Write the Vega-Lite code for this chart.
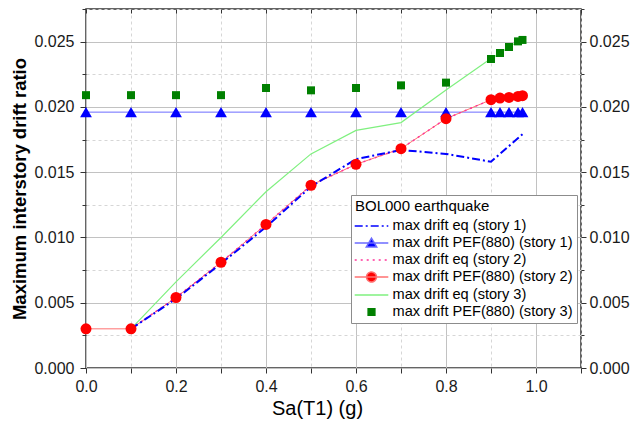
{
  "$schema": "https://vega.github.io/schema/vega-lite/v6.json",
  "width": 495,
  "height": 359,
  "autosize": {"type": "none"},
  "padding": {"left": 86, "top": 9, "right": 49, "bottom": 59},
  "background": "white",
  "config": {
    "font": "Liberation Sans",
    "view": {"stroke": "#333333", "strokeWidth": 1.5},
    "axis": {"labelFont": "Liberation Sans", "labelFontSize": 16, "labelColor": "#1a1a1a", "tickColor": "#333333", "domain": false, "titleFont": "Liberation Sans", "titleColor": "#000000", "labelFlush": false, "labelOverlap": false, "labelBound": false},
    "legend": {"orient": "none", "legendX": 265, "legendY": 186,
      "titleFontSize": 15, "titleFontWeight": "normal", "titleColor": "#000000", "titleFont": "Liberation Sans", "titlePadding": 3,
      "labelFontSize": 14.6, "labelColor": "#000000", "labelFont": "Liberation Sans", "labelLimit": 400,
      "fillColor": "#ffffff", "strokeColor": "#8c8c8c", "padding": 4, "rowPadding": 1,
      "symbolSize": 256, "symbolStrokeWidth": 1.5, "symbolOpacity": 1, "symbolOffset": 7.5, "labelOffset": 12}
  },
  "data": {"values": [
    {"s": "max drift eq (story 1)", "x": 0.1, "y": 0.0030},
    {"s": "max drift eq (story 1)", "x": 0.2, "y": 0.0053},
    {"s": "max drift eq (story 1)", "x": 0.3, "y": 0.0080},
    {"s": "max drift eq (story 1)", "x": 0.4, "y": 0.0108},
    {"s": "max drift eq (story 1)", "x": 0.5, "y": 0.0139},
    {"s": "max drift eq (story 1)", "x": 0.6, "y": 0.0160},
    {"s": "max drift eq (story 1)", "x": 0.7, "y": 0.0167},
    {"s": "max drift eq (story 1)", "x": 0.8, "y": 0.0164},
    {"s": "max drift eq (story 1)", "x": 0.9, "y": 0.0158},
    {"s": "max drift eq (story 1)", "x": 0.97, "y": 0.0179},
    {"s": "max drift PEF(880) (story 1)", "x": 0.0, "y": 0.0196},
    {"s": "max drift PEF(880) (story 1)", "x": 0.1, "y": 0.0196},
    {"s": "max drift PEF(880) (story 1)", "x": 0.2, "y": 0.0196},
    {"s": "max drift PEF(880) (story 1)", "x": 0.3, "y": 0.0196},
    {"s": "max drift PEF(880) (story 1)", "x": 0.4, "y": 0.0196},
    {"s": "max drift PEF(880) (story 1)", "x": 0.5, "y": 0.0196},
    {"s": "max drift PEF(880) (story 1)", "x": 0.6, "y": 0.0196},
    {"s": "max drift PEF(880) (story 1)", "x": 0.7, "y": 0.0196},
    {"s": "max drift PEF(880) (story 1)", "x": 0.8, "y": 0.0196},
    {"s": "max drift PEF(880) (story 1)", "x": 0.9, "y": 0.0196},
    {"s": "max drift PEF(880) (story 1)", "x": 0.92, "y": 0.0196},
    {"s": "max drift PEF(880) (story 1)", "x": 0.94, "y": 0.0196},
    {"s": "max drift PEF(880) (story 1)", "x": 0.96, "y": 0.0196},
    {"s": "max drift PEF(880) (story 1)", "x": 0.97, "y": 0.0196},
    {"s": "max drift eq (story 2)", "x": 0.1, "y": 0.0030},
    {"s": "max drift eq (story 2)", "x": 0.2, "y": 0.0054},
    {"s": "max drift eq (story 2)", "x": 0.3, "y": 0.0081},
    {"s": "max drift eq (story 2)", "x": 0.4, "y": 0.0110},
    {"s": "max drift eq (story 2)", "x": 0.5, "y": 0.0140},
    {"s": "max drift eq (story 2)", "x": 0.6, "y": 0.0156},
    {"s": "max drift eq (story 2)", "x": 0.7, "y": 0.0168},
    {"s": "max drift eq (story 2)", "x": 0.8, "y": 0.0191},
    {"s": "max drift eq (story 2)", "x": 0.9, "y": 0.02055},
    {"s": "max drift eq (story 2)", "x": 0.92, "y": 0.02068},
    {"s": "max drift eq (story 2)", "x": 0.94, "y": 0.02073},
    {"s": "max drift eq (story 2)", "x": 0.96, "y": 0.0208},
    {"s": "max drift eq (story 2)", "x": 0.97, "y": 0.02086},
    {"s": "max drift PEF(880) (story 2)", "x": 0.0, "y": 0.0030},
    {"s": "max drift PEF(880) (story 2)", "x": 0.1, "y": 0.0030},
    {"s": "max drift PEF(880) (story 2)", "x": 0.2, "y": 0.0054},
    {"s": "max drift PEF(880) (story 2)", "x": 0.3, "y": 0.0081},
    {"s": "max drift PEF(880) (story 2)", "x": 0.4, "y": 0.0110},
    {"s": "max drift PEF(880) (story 2)", "x": 0.5, "y": 0.0140},
    {"s": "max drift PEF(880) (story 2)", "x": 0.6, "y": 0.0156},
    {"s": "max drift PEF(880) (story 2)", "x": 0.7, "y": 0.0168},
    {"s": "max drift PEF(880) (story 2)", "x": 0.8, "y": 0.0191},
    {"s": "max drift PEF(880) (story 2)", "x": 0.9, "y": 0.02055},
    {"s": "max drift PEF(880) (story 2)", "x": 0.92, "y": 0.02068},
    {"s": "max drift PEF(880) (story 2)", "x": 0.94, "y": 0.02073},
    {"s": "max drift PEF(880) (story 2)", "x": 0.96, "y": 0.0208},
    {"s": "max drift PEF(880) (story 2)", "x": 0.97, "y": 0.02086},
    {"s": "max drift eq (story 3)", "x": 0.1, "y": 0.0030},
    {"s": "max drift eq (story 3)", "x": 0.2, "y": 0.0066},
    {"s": "max drift eq (story 3)", "x": 0.3, "y": 0.0100},
    {"s": "max drift eq (story 3)", "x": 0.4, "y": 0.0135},
    {"s": "max drift eq (story 3)", "x": 0.5, "y": 0.0164},
    {"s": "max drift eq (story 3)", "x": 0.6, "y": 0.0182},
    {"s": "max drift eq (story 3)", "x": 0.7, "y": 0.0188},
    {"s": "max drift eq (story 3)", "x": 0.8, "y": 0.0213},
    {"s": "max drift eq (story 3)", "x": 0.9, "y": 0.0237},
    {"s": "max drift eq (story 3)", "x": 0.92, "y": 0.0241},
    {"s": "max drift eq (story 3)", "x": 0.94, "y": 0.0246},
    {"s": "max drift eq (story 3)", "x": 0.96, "y": 0.0250},
    {"s": "max drift eq (story 3)", "x": 0.97, "y": 0.0251},
    {"s": "max drift PEF(880) (story 3)", "x": 0.0, "y": 0.0209},
    {"s": "max drift PEF(880) (story 3)", "x": 0.1, "y": 0.0209},
    {"s": "max drift PEF(880) (story 3)", "x": 0.2, "y": 0.0209},
    {"s": "max drift PEF(880) (story 3)", "x": 0.3, "y": 0.0209},
    {"s": "max drift PEF(880) (story 3)", "x": 0.4, "y": 0.02145},
    {"s": "max drift PEF(880) (story 3)", "x": 0.5, "y": 0.02127},
    {"s": "max drift PEF(880) (story 3)", "x": 0.6, "y": 0.02145},
    {"s": "max drift PEF(880) (story 3)", "x": 0.7, "y": 0.02165},
    {"s": "max drift PEF(880) (story 3)", "x": 0.8, "y": 0.02186},
    {"s": "max drift PEF(880) (story 3)", "x": 0.9, "y": 0.02367},
    {"s": "max drift PEF(880) (story 3)", "x": 0.92, "y": 0.02413},
    {"s": "max drift PEF(880) (story 3)", "x": 0.94, "y": 0.02459},
    {"s": "max drift PEF(880) (story 3)", "x": 0.96, "y": 0.02502},
    {"s": "max drift PEF(880) (story 3)", "x": 0.97, "y": 0.02513}
  ]},
  "resolve": {"axis": {"x": "independent", "y": "independent"}},
  "layer": [
    {
      "transform": [{"filter": {"field": "s", "equal": "max drift PEF(880) (story 1)"}}],
      "mark": {"type": "line", "color": "#6b6bff", "strokeWidth": 1},
      "encoding": {
        "x": {"field": "x", "type": "quantitative", "scale": {"domain": [0, 1.1], "nice": false, "zero": false},
          "axis": {"orient": "bottom", "values": [0, 0.1, 0.2, 0.3, 0.4, 0.5, 0.6, 0.7, 0.8, 0.9, 1.0, 1.1],
            "labelExpr": "(round(datum.value*10) % 2 == 0 && datum.value < 1.05) ? format(datum.value, '.1f') : ''",
            "grid": true,
            "gridColor": {"condition": {"test": "round(datum.value*10) % 2 == 1", "value": "#d6d6d6"}, "value": "#c2c2c2"},
            "gridDash": {"condition": {"test": "round(datum.value*10) % 2 == 1", "value": [3, 3]}, "value": []},
            "tickSize": 5, "labelPadding": 5,
            "title": "Sa(T1) (g)", "titleFontSize": 20, "titleFontWeight": "normal", "titlePadding": 4, "titleX": 231, "titleAlign": "center"}},
        "y": {"field": "y", "type": "quantitative", "scale": {"domain": [0, 0.0275], "nice": false, "zero": false},
          "axis": {"orient": "left", "values": [0, 0.0025, 0.005, 0.0075, 0.01, 0.0125, 0.015, 0.0175, 0.02, 0.0225, 0.025, 0.0275],
            "labelExpr": "(round(datum.value*10000) % 50 == 0) ? format(datum.value, '.3f') : ''",
            "grid": true,
            "gridColor": {"condition": {"test": "round(datum.value*10000) % 50 != 0", "value": "#d6d6d6"}, "value": "#c2c2c2"},
            "gridDash": {"condition": {"test": "round(datum.value*10000) % 50 != 0", "value": [3, 3]}, "value": []},
            "tickSize": {"condition": {"test": "round(datum.value*10000) % 50 != 0", "value": 4}, "value": 6},
            "labelPadding": 6,
            "title": "Maximum interstory drift ratio", "titleFontSize": 18.5, "titleFontWeight": "bold", "titlePadding": 4}}
      }
    },
    {
      "transform": [{"filter": {"field": "s", "equal": "max drift eq (story 3)"}}],
      "mark": {"type": "line", "color": "#7ff07f", "strokeWidth": 1.2},
      "encoding": {
        "x": {"field": "x", "type": "quantitative", "axis": null},
        "y": {"field": "y", "type": "quantitative", "axis": null}
      }
    },
    {
      "transform": [{"filter": {"field": "s", "equal": "max drift PEF(880) (story 2)"}}],
      "mark": {"type": "line", "color": "#ff7070", "strokeWidth": 1},
      "encoding": {
        "x": {"field": "x", "type": "quantitative", "axis": null},
        "y": {"field": "y", "type": "quantitative", "axis": null}
      }
    },
    {
      "transform": [{"filter": {"field": "s", "equal": "max drift eq (story 2)"}}],
      "mark": {"type": "line", "color": "#ff3399", "strokeWidth": 1.5, "strokeDash": [2, 4]},
      "encoding": {
        "x": {"field": "x", "type": "quantitative", "axis": null},
        "y": {"field": "y", "type": "quantitative", "axis": null}
      }
    },
    {
      "transform": [{"filter": {"field": "s", "equal": "max drift eq (story 1)"}}],
      "mark": {"type": "line", "color": "#0000ff", "strokeWidth": 2, "strokeDash": [8, 3, 2, 3]},
      "encoding": {
        "x": {"field": "x", "type": "quantitative", "axis": null},
        "y": {"field": "y", "type": "quantitative", "axis": null}
      }
    },
    {
      "transform": [{"filter": {"field": "s", "equal": "max drift PEF(880) (story 1)"}}],
      "mark": {"type": "point", "shape": "triangle-up", "filled": true, "color": "#0000ff", "opacity": 1, "size": 140},
      "encoding": {
        "x": {"field": "x", "type": "quantitative",
          "axis": {"orient": "top", "values": [0, 0.1, 0.2, 0.3, 0.4, 0.5, 0.6, 0.7, 0.8, 0.9, 1.0, 1.1], "labels": false, "grid": false, "tickSize": -4, "title": null}},
        "y": {"field": "y", "type": "quantitative",
          "axis": {"orient": "right", "values": [0, 0.0025, 0.005, 0.0075, 0.01, 0.0125, 0.015, 0.0175, 0.02, 0.0225, 0.025, 0.0275],
            "labelExpr": "(round(datum.value*10000) % 50 == 0) ? format(datum.value, '.3f') : ''",
            "grid": false,
            "tickSize": {"condition": {"test": "round(datum.value*10000) % 50 != 0", "value": 3}, "value": 5},
            "labelPadding": 3, "title": null}}
      }
    },
    {
      "transform": [{"filter": {"field": "s", "equal": "max drift PEF(880) (story 2)"}}],
      "mark": {"type": "point", "shape": "circle", "filled": true, "color": "#ff0000", "opacity": 1, "size": 121},
      "encoding": {
        "x": {"field": "x", "type": "quantitative", "axis": null},
        "y": {"field": "y", "type": "quantitative", "axis": null}
      }
    },
    {
      "transform": [{"filter": {"field": "s", "equal": "max drift PEF(880) (story 3)"}}],
      "mark": {"type": "point", "shape": "square", "filled": true, "color": "#008000", "opacity": 1, "size": 64},
      "encoding": {
        "x": {"field": "x", "type": "quantitative", "axis": null},
        "y": {"field": "y", "type": "quantitative", "axis": null}
      }
    },
    {
      "transform": [{"filter": "false"}],
      "mark": {"type": "point"},
      "encoding": {
        "x": {"field": "x", "type": "quantitative", "axis": null},
        "y": {"field": "y", "type": "quantitative", "axis": null},
        "stroke": {"field": "s", "type": "nominal", "title": "BOL000 earthquake",
          "scale": {"domain": ["max drift eq (story 1)", "max drift PEF(880) (story 1)", "max drift eq (story 2)", "max drift PEF(880) (story 2)", "max drift eq (story 3)", "max drift PEF(880) (story 3)"],
            "range": ["#0000ff", "#6b6bff", "#ff3399", "#ff7070", "#7ff07f", "#008000"]}},
        "fill": {"field": "s", "type": "nominal", "title": "BOL000 earthquake",
          "scale": {"domain": ["max drift eq (story 1)", "max drift PEF(880) (story 1)", "max drift eq (story 2)", "max drift PEF(880) (story 2)", "max drift eq (story 3)", "max drift PEF(880) (story 3)"],
            "range": ["transparent", "#0000ff", "transparent", "#ff0000", "transparent", "#008000"]}},
        "shape": {"field": "s", "type": "nominal", "title": "BOL000 earthquake",
          "scale": {"domain": ["max drift eq (story 1)", "max drift PEF(880) (story 1)", "max drift eq (story 2)", "max drift PEF(880) (story 2)", "max drift eq (story 3)", "max drift PEF(880) (story 3)"],
            "range": ["M-2.1,0L2.1,0", "M-2.1,0L2.1,0M0,-0.6L0.65,0.5L-0.65,0.5Z", "M-2.1,0L2.1,0", "M-2.1,0L2.1,0M0.62,0A0.62,0.62,0,1,1,-0.62,0A0.62,0.62,0,1,1,0.62,0Z", "M-2.1,0L2.1,0", "M-0.42,-0.42L0.42,-0.42L0.42,0.42L-0.42,0.42Z"]}},
        "strokeDash": {"field": "s", "type": "nominal", "title": "BOL000 earthquake",
          "scale": {"domain": ["max drift eq (story 1)", "max drift PEF(880) (story 1)", "max drift eq (story 2)", "max drift PEF(880) (story 2)", "max drift eq (story 3)", "max drift PEF(880) (story 3)"],
            "range": [[8, 3, 2, 3], [1, 0], [2, 4], [1, 0], [1, 0], [1, 0]]}}
      }
    }
  ]
}
